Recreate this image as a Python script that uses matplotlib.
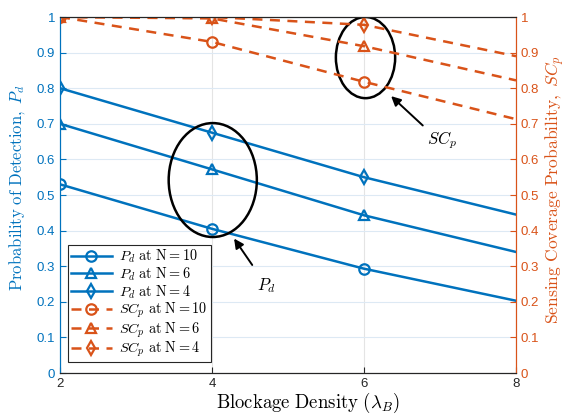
import matplotlib
matplotlib.use("Agg")
import matplotlib.pyplot as plt
from matplotlib.patches import Ellipse

plt.rcParams['mathtext.fontset'] = 'cm'
plt.rcParams['font.family'] = ['Liberation Sans', 'DejaVu Sans']

blockage_density = [2, 4, 6, 8]

pd_n10 = [0.53, 0.405, 0.293, 0.203]
pd_n6 = [0.70, 0.572, 0.443, 0.340]
pd_n4 = [0.80, 0.675, 0.550, 0.445]

scp_n10 = [1.00, 0.930, 0.818, 0.713]
scp_n6 = [1.00, 0.996, 0.918, 0.822]
scp_n4 = [1.00, 1.000, 0.978, 0.890]

x_ticks = [2, 4, 6, 8]
y_ticks = [0, 0.1, 0.2, 0.3, 0.4, 0.5, 0.6, 0.7, 0.8, 0.9, 1]
y_tick_labels = ['0', '0.1', '0.2', '0.3', '0.4', '0.5', '0.6', '0.7', '0.8', '0.9', '1']

BLUE = '#0072BD'
ORANGE = '#D95319'

fig = plt.figure(figsize=(5.68, 4.15), dpi=100)
ax = fig.add_axes([60 / 568, 1 - 373 / 415, 456 / 568, 356 / 415])
ax2 = ax.twinx()

mk = dict(markersize=7.5, markerfacecolor='none', markeredgewidth=1.6, markevery=[0, 1, 2])

ax.plot(blockage_density, pd_n10, '-', color=BLUE, lw=1.8, marker='o', **mk,
        label=r'$P_d\ \mathrm{at\ N} = 10$')
ax.plot(blockage_density, pd_n6, '-', color=BLUE, lw=1.8, marker='^', **mk,
        label=r'$P_d\ \mathrm{at\ N} = 6$')
ax.plot(blockage_density, pd_n4, '-', color=BLUE, lw=1.8, marker='d', **mk,
        label=r'$P_d\ \mathrm{at\ N} = 4$')

dash = (0, (4, 3))
ax2.plot(blockage_density, scp_n10, color=ORANGE, lw=1.8, ls=dash, marker='o', **mk,
         label=r'$SC_p\ \mathrm{at\ N} = 10$')
ax2.plot(blockage_density, scp_n6, color=ORANGE, lw=1.8, ls=dash, marker='^', **mk,
         label=r'$SC_p\ \mathrm{at\ N} = 6$')
ax2.plot(blockage_density, scp_n4, color=ORANGE, lw=1.8, ls=dash, marker='d', **mk,
         label=r'$SC_p\ \mathrm{at\ N} = 4$')

for a in (ax, ax2):
    a.set_xlim(2, 8)
    a.set_ylim(0, 1)
    a.set_yticks(y_ticks)
    a.set_yticklabels(y_tick_labels)

ax.set_xticks(x_ticks)
ax.set_xticklabels([str(v) for v in x_ticks])

# grid
ax.set_axisbelow(True)
ax.grid(axis='y', color='#dde9f4', lw=0.8)
ax.grid(axis='x', color='#e4e4e4', lw=0.8)

ax.tick_params(axis='y', colors=BLUE, direction='in', labelsize=9.5, length=4)
ax.tick_params(axis='x', colors='#262626', direction='in', labelsize=9.5, length=4)
ax2.tick_params(axis='y', colors=ORANGE, direction='in', labelsize=9.5, length=4)

ax.spines['left'].set_color(BLUE)
ax2.spines['left'].set_color(BLUE)
ax2.spines['right'].set_color(ORANGE)
ax.spines['right'].set_color(ORANGE)
ax2.spines['bottom'].set_color('#262626')
ax2.spines['top'].set_color('#262626')

ax.set_xlabel(r'$\mathrm{Blockage\ Density\ }(\lambda_B)$', fontsize=13.5, va='center')
ax.xaxis.set_label_coords((308 - 60) / 456, -0.085)
ax.set_ylabel(r'$\mathrm{Probability\ of\ Detection,\ }P_d$', fontsize=12, color=BLUE, va='center')
ax.yaxis.set_label_coords(-0.095, (373 - 188) / 356)
ax2.set_ylabel(r'$\mathrm{Sensing\ Coverage\ Probability,\ }SC_p$', fontsize=12.6, color=ORANGE,
               va='center', rotation=90)
ax2.yaxis.set_label_coords(1.087, (373 - 190) / 356)

# highlight groups
ax.add_patch(Ellipse((4.01, 0.542), 1.16, 0.32, fill=False, ec='black', lw=1.8, zorder=5))
ax.add_patch(Ellipse((6.02, 0.886), 0.78, 0.228, fill=False, ec='black', lw=1.8, zorder=5))

ax.annotate('', xy=(4.27, 0.384), xytext=(4.55, 0.297),
            arrowprops=dict(arrowstyle='-|>', color='black', lw=1.4, mutation_scale=14), zorder=6)
ax.text(4.72, 0.245, r'$P_d$', fontsize=12, ha='center', va='center')
ax.annotate('', xy=(6.33, 0.783), xytext=(6.8, 0.690),
            arrowprops=dict(arrowstyle='-|>', color='black', lw=1.4, mutation_scale=14), zorder=6)
ax.text(7.02, 0.653, r'$SC_p$', fontsize=12, ha='center', va='center')

h1, lb1 = ax.get_legend_handles_labels()
h2, lb2 = ax2.get_legend_handles_labels()
leg = ax2.legend(h1 + h2, lb1 + lb2, loc='lower left', bbox_to_anchor=(0.017, 0.03),
                 fontsize=10.3, frameon=True, fancybox=False, edgecolor='#262626',
                 framealpha=1, handlelength=2.9, borderpad=0.2, labelspacing=0.02,
                 handletextpad=0.5, borderaxespad=0)
leg.get_frame().set_linewidth(0.8)

fig.savefig('out.png', dpi=100)
